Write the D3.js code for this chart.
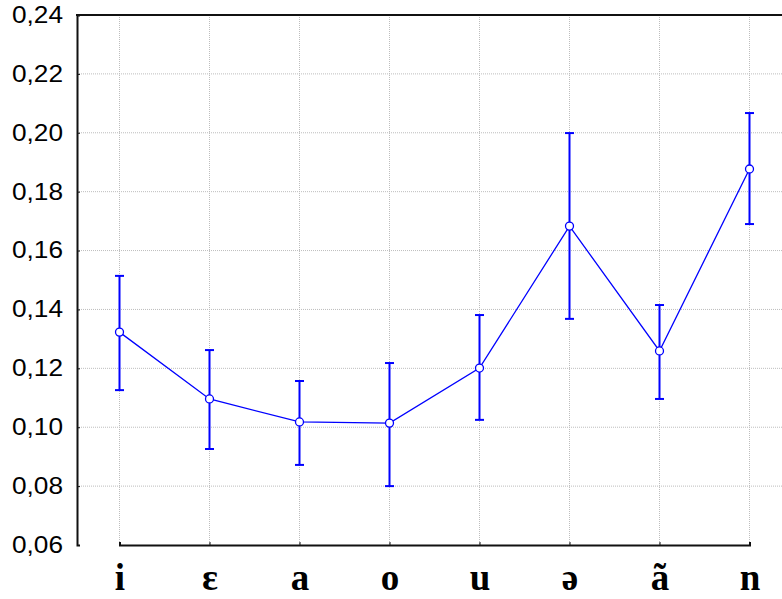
<!DOCTYPE html>
<html>
<head>
<meta charset="utf-8">
<script src="https://cdn.jsdelivr.net/npm/d3@7"></script>
<style>
  body { margin: 0; background: #fff; }
  svg { display: block; }
</style>
</head>
<body>
<div id="chart"></div>
<script>
// data
const categories = ["i", "ɛ", "a", "o", "u", "ə", "ã", "n"];
const means = [0.1323, 0.1096, 0.1018, 0.1014, 0.1201, 0.1683, 0.1259, 0.1877];
const upper = [0.1514, 0.1262, 0.1157, 0.1218, 0.1381, 0.1999, 0.1415, 0.2067];
const lower = [0.1126, 0.0926, 0.0872, 0.0800, 0.1025, 0.1368, 0.1096, 0.1690];
const yTicks = [0.06, 0.08, 0.10, 0.12, 0.14, 0.16, 0.18, 0.20, 0.22, 0.24];

const W = 782, H = 599;
const margin = { top: 15, right: 0, bottom: 54, left: 77 };
const width = W - margin.left - margin.right;
const height = H - margin.top - margin.bottom;

const data = categories.map((c, i) => ({ cat: c, m: means[i], hi: upper[i], lo: lower[i] }));

const svg = d3.select("#chart")
  .append("svg")
  .attr("width", W)
  .attr("height", H);

const g = svg.append("g")
  .attr("transform", `translate(${margin.left},${margin.top})`);

// scales (90px per category, plot runs past the right edge)
const x = d3.scalePoint()
  .domain(categories)
  .range([42.5, 42.5 + 90 * (categories.length - 1)]);

const y = d3.scaleLinear()
  .domain([0.06, 0.24])
  .range([height, 0]);

// grid
g.append("g")
  .selectAll("line")
  .data(yTicks.slice(1, -1))
  .join("line")
  .attr("x1", 0).attr("x2", width)
  .attr("y1", d => y(d)).attr("y2", d => y(d))
  .attr("stroke", "#bdbdbd")
  .attr("stroke-width", 1)
  .attr("stroke-dasharray", "1,1");

g.append("g")
  .selectAll("line")
  .data(categories)
  .join("line")
  .attr("x1", d => x(d)).attr("x2", d => x(d))
  .attr("y1", 0).attr("y2", height)
  .attr("stroke", "#bdbdbd")
  .attr("stroke-width", 1)
  .attr("stroke-dasharray", "1,1");

// y axis
const yAxis = g.append("g")
  .call(d3.axisLeft(y)
    .tickValues(yTicks)
    .tickSize(-3)
    .tickPadding(14)
    .tickFormat(d => d.toFixed(2).replace(".", ",")));
yAxis.select(".domain").attr("stroke", "#111").attr("stroke-width", 2);
yAxis.selectAll(".tick line").attr("stroke", "#111");
yAxis.selectAll(".tick text")
  .attr("fill", "#000")
  .attr("textLength", 51)
  .attr("lengthAdjust", "spacingAndGlyphs")
  .style("font-family", "'Liberation Sans', Arial, sans-serif")
  .style("font-size", "23px");

// x axis
const xAxis = g.append("g")
  .attr("transform", `translate(0,${height})`)
  .call(d3.axisBottom(x).tickSize(-3));
xAxis.select(".domain").attr("stroke", "#111").attr("stroke-width", 2);
xAxis.selectAll(".tick line").attr("stroke", "#111");
xAxis.selectAll(".tick text")
  .attr("fill", "#000")
  .attr("y", 45)
  .attr("dy", 0)
  .style("font-family", "'Liberation Serif', 'Times New Roman', serif")
  .style("font-weight", "bold")
  .style("font-size", "37px");

// top border
g.append("line")
  .attr("x1", -1).attr("x2", width)
  .attr("y1", 0).attr("y2", 0)
  .attr("stroke", "#111")
  .attr("stroke-width", 2);

// error bars
const eb = g.append("g")
  .selectAll("g")
  .data(data)
  .join("g")
  .attr("stroke", "#0000ff");

eb.append("line")
  .attr("x1", d => x(d.cat)).attr("x2", d => x(d.cat))
  .attr("y1", d => y(d.hi)).attr("y2", d => y(d.lo))
  .attr("stroke-width", 2);
eb.append("line")
  .attr("x1", d => x(d.cat) - 4.5).attr("x2", d => x(d.cat) + 4.5)
  .attr("y1", d => y(d.hi)).attr("y2", d => y(d.hi))
  .attr("stroke-width", 2);
eb.append("line")
  .attr("x1", d => x(d.cat) - 4.5).attr("x2", d => x(d.cat) + 4.5)
  .attr("y1", d => y(d.lo)).attr("y2", d => y(d.lo))
  .attr("stroke-width", 2);

// mean line
const line = d3.line()
  .x(d => x(d.cat))
  .y(d => y(d.m));

g.append("path")
  .datum(data)
  .attr("fill", "none")
  .attr("stroke", "#0000ff")
  .attr("stroke-width", 1.3)
  .attr("d", line);

g.append("g")
  .selectAll("circle")
  .data(data)
  .join("circle")
  .attr("cx", d => x(d.cat))
  .attr("cy", d => y(d.m))
  .attr("r", 4)
  .attr("fill", "#fff")
  .attr("stroke", "#0000ff")
  .attr("stroke-width", 1.3);
</script>
</body>
</html>
